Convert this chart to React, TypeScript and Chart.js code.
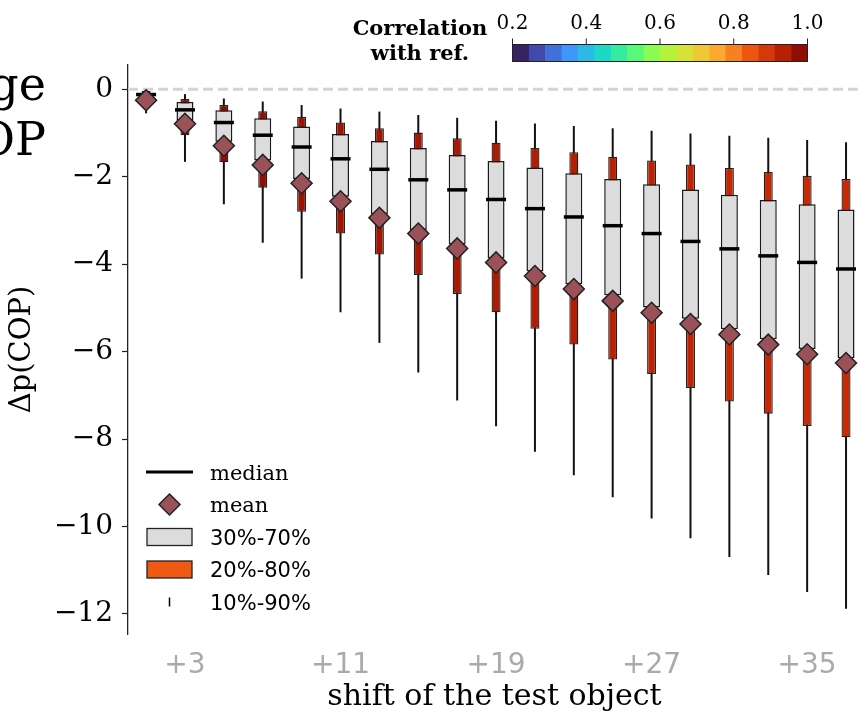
import React, { useEffect, useRef } from 'react';
import { Chart, registerables } from 'chart.js';
Chart.register(...registerables);

// ---------- data ----------
const SHIFTS = [1, 3, 5, 7, 9, 11, 13, 15, 17, 19, 21, 23, 25, 27, 29, 31, 33, 35, 37];
const P10 = [-0.02, -0.11, -0.21, -0.28, -0.36, -0.44, -0.51, -0.59, -0.65, -0.72, -0.78, -0.84, -0.89, -0.95, -1.01, -1.06, -1.11, -1.16, -1.21];
const P20 = [-0.04, -0.22, -0.36, -0.50, -0.63, -0.76, -0.89, -0.99, -1.12, -1.22, -1.34, -1.44, -1.54, -1.63, -1.72, -1.80, -1.89, -1.98, -2.05];
const P30 = [-0.08, -0.29, -0.48, -0.66, -0.85, -1.02, -1.18, -1.34, -1.50, -1.64, -1.79, -1.92, -2.05, -2.17, -2.29, -2.41, -2.53, -2.63, -2.75];
const MEDIAN = [-0.12, -0.47, -0.76, -1.05, -1.32, -1.59, -1.83, -2.07, -2.30, -2.52, -2.73, -2.92, -3.12, -3.30, -3.48, -3.65, -3.81, -3.96, -4.11];
const P70 = [-0.16, -0.72, -1.20, -1.63, -2.05, -2.46, -2.86, -3.22, -3.55, -3.87, -4.17, -4.46, -4.71, -4.99, -5.25, -5.49, -5.72, -5.94, -6.15];
const P80 = [-0.20, -1.05, -1.67, -2.25, -2.80, -3.30, -3.78, -4.25, -4.68, -5.10, -5.48, -5.84, -6.18, -6.51, -6.83, -7.14, -7.42, -7.70, -7.96];
const P90 = [-0.55, -1.66, -2.63, -3.51, -4.33, -5.10, -5.80, -6.48, -7.12, -7.71, -8.29, -8.83, -9.33, -9.82, -10.27, -10.70, -11.11, -11.50, -11.88];
const MEAN = [-0.25, -0.79, -1.29, -1.73, -2.15, -2.56, -2.94, -3.30, -3.64, -3.96, -4.27, -4.57, -4.84, -5.11, -5.37, -5.61, -5.84, -6.06, -6.26];
const CORRELATION = [0.99, 0.98, 0.976, 0.971, 0.966, 0.962, 0.958, 0.954, 0.949, 0.945, 0.94, 0.936, 0.931, 0.927, 0.922, 0.919, 0.916, 0.913, 0.911];

const X_TICKS = [3, 11, 19, 27, 35];
const Y_TICKS = [0, -2, -4, -6, -8, -10, -12];
const X_MIN = 0.07;
const X_MAX = 37.77;
const Y_MIN = -12.46;
const Y_MAX = 0.556;

const CBAR_MIN = 0.2;
const CBAR_MAX = 1.0;
const CBAR_BINS = 18;
const CBAR_TICKS = [0.2, 0.4, 0.6, 0.8, 1.0];
const CBAR_TITLE = ['Correlation', 'with ref.'];

const LEGEND_LABELS = ['median', 'mean', '30%-70%', '20%-80%', '10%-90%'];
const CROPPED_TITLE = ['ge', 'OP'];

// turbo colormap stops
const TURBO: [number, string][] = [
  [0.0, '#30123b'], [0.1, '#4454c4'], [0.2, '#3e9bfe'], [0.3, '#18d6cb'], [0.4, '#46f884'],
  [0.5, '#a4fc3c'], [0.6, '#e1dd37'], [0.7, '#fea632'], [0.8, '#ef5911'], [0.9, '#c42503'], [1.0, '#7a0403'],
];

const hex = (h: string) => [1, 3, 5].map((i) => parseInt(h.slice(i, i + 2), 16));
function turbo(t: number): string {
  const u = Math.max(0, Math.min(1, t));
  for (let i = 0; i < TURBO.length - 1; i++) {
    const [t0, c0] = TURBO[i];
    const [t1, c1] = TURBO[i + 1];
    if (u <= t1) {
      const f = (u - t0) / (t1 - t0);
      const a = hex(c0), b = hex(c1);
      const c = a.map((v, k) => Math.round(v + (b[k] - v) * f));
      return `rgb(${c[0]},${c[1]},${c[2]})`;
    }
  }
  return TURBO[TURBO.length - 1][1];
}
const corrColor = (c: number) => turbo((c - CBAR_MIN) / (CBAR_MAX - CBAR_MIN));

const SERIF = "'DejaVu Serif', serif";
const SANS = "'DejaVu Sans', sans-serif";
const MEAN_FILL = '#9a5258';
const GRAY_FILL = '#dcdcdc';
const LEGEND_ORANGE = '#ef5a13';

export default function App() {
  const ref = useRef<HTMLCanvasElement>(null);

  useEffect(() => {
    const canvas = ref.current!;

    const decor = {
      id: 'decor',
      afterDraw(chart: any) {
        const ctx: CanvasRenderingContext2D = chart.ctx;
        ctx.save();

        // cropped neighbouring title
        ctx.fillStyle = '#000';
        ctx.font = `46px ${SERIF}`;
        ctx.textAlign = 'right';
        ctx.textBaseline = 'alphabetic';
        ctx.fillText(CROPPED_TITLE[0], 46, 100);
        ctx.fillText(CROPPED_TITLE[1], 46, 155);

        // colorbar
        const cbL = 512.5, cbR = 807.5, cbT = 44.5, cbB = 61.5;
        const px = (v: number) => cbL + ((v - CBAR_MIN) / (CBAR_MAX - CBAR_MIN)) * (cbR - cbL);
        const step = (CBAR_MAX - CBAR_MIN) / CBAR_BINS;
        for (let i = 0; i < CBAR_BINS; i++) {
          const v0 = CBAR_MIN + i * step;
          ctx.fillStyle = turbo((i + 0.5) / CBAR_BINS);
          ctx.fillRect(px(v0), cbT, px(v0 + step) - px(v0) + 0.5, cbB - cbT);
        }
        ctx.strokeStyle = '#222';
        ctx.lineWidth = 1;
        ctx.strokeRect(cbL, cbT, cbR - cbL, cbB - cbT);
        ctx.fillStyle = '#000';
        ctx.textAlign = 'center';
        ctx.font = `20px ${SERIF}`;
        for (const v of CBAR_TICKS) {
          const x = px(v);
          ctx.beginPath();
          ctx.moveTo(x, cbT);
          ctx.lineTo(x, cbT - 6);
          ctx.stroke();
          ctx.fillText(v.toFixed(1), x, 28.5);
        }
        ctx.font = `bold 21px ${SERIF}`;
        ctx.fillText(CBAR_TITLE[0], 420, 34.5);
        ctx.fillText(CBAR_TITLE[1], 420, 59.5);

        // legend
        const rows = [472, 504.5, 537, 569.5, 602];
        const hx = 169.5;
        ctx.strokeStyle = '#000';
        ctx.lineWidth = 3;
        ctx.beginPath();
        ctx.moveTo(146, rows[0]);
        ctx.lineTo(193, rows[0]);
        ctx.stroke();
        const d = 10.5;
        ctx.beginPath();
        ctx.moveTo(hx, rows[1] - d);
        ctx.lineTo(hx + d, rows[1]);
        ctx.lineTo(hx, rows[1] + d);
        ctx.lineTo(hx - d, rows[1]);
        ctx.closePath();
        ctx.fillStyle = MEAN_FILL;
        ctx.fill();
        ctx.strokeStyle = '#222';
        ctx.lineWidth = 1.5;
        ctx.stroke();
        ctx.lineWidth = 1.3;
        ctx.fillStyle = GRAY_FILL;
        ctx.fillRect(147, rows[2] - 8.5, 45, 17);
        ctx.strokeRect(147, rows[2] - 8.5, 45, 17);
        ctx.fillStyle = LEGEND_ORANGE;
        ctx.fillRect(147, rows[3] - 8.5, 45, 17);
        ctx.strokeRect(147, rows[3] - 8.5, 45, 17);
        ctx.strokeStyle = '#000';
        ctx.lineWidth = 1.5;
        ctx.beginPath();
        ctx.moveTo(hx, rows[4] - 4.5);
        ctx.lineTo(hx, rows[4] + 4.5);
        ctx.stroke();
        ctx.fillStyle = '#000';
        ctx.textAlign = 'left';
        LEGEND_LABELS.forEach((lab, i) => {
          ctx.font = `21px ${i < 2 ? SERIF : SANS}`;
          ctx.fillText(lab, 210, rows[i] + 7.5);
        });

        ctx.restore();
      },
    };

    const chart = new Chart(canvas, {
      type: 'bar',
      data: {
        datasets: [
          {
            type: 'scatter',
            label: 'mean',
            data: SHIFTS.map((x, i) => ({ x, y: MEAN[i] })),
            pointStyle: 'rectRot',
            pointRadius: 10.5,
            backgroundColor: MEAN_FILL,
            borderColor: '#222',
            borderWidth: 1.5,
            order: 0,
          } as any,
          {
            type: 'scatter',
            label: 'median',
            data: SHIFTS.map((x, i) => ({ x, y: MEDIAN[i] })),
            pointStyle: 'line',
            pointRadius: 10,
            borderColor: '#000',
            backgroundColor: '#000',
            borderWidth: 3.5,
            order: 1,
          } as any,
          {
            type: 'bar',
            label: '30%-70%',
            data: SHIFTS.map((x, i) => ({ x, y: [P30[i], P70[i]] })),
            backgroundColor: GRAY_FILL,
            borderColor: '#1a1a1a',
            borderWidth: 1.5,
            borderSkipped: false,
            grouped: false,
            maxBarThickness: 17,
            order: 2,
          } as any,
          {
            type: 'bar',
            label: '20%-80%',
            data: SHIFTS.map((x, i) => ({ x, y: [P20[i], P80[i]] })),
            backgroundColor: CORRELATION.map(corrColor),
            borderColor: '#222',
            borderWidth: 1.3,
            borderSkipped: false,
            grouped: false,
            maxBarThickness: 9,
            order: 3,
          } as any,
          {
            type: 'bar',
            label: '10%-90%',
            data: SHIFTS.map((x, i) => ({ x, y: [P10[i], P90[i]] })),
            backgroundColor: '#111',
            borderWidth: 0,
            grouped: false,
            maxBarThickness: 2,
            order: 4,
          } as any,
          {
            type: 'line',
            label: 'zero',
            data: [{ x: X_MIN, y: 0 }, { x: X_MAX, y: 0 }],
            borderColor: '#d4d4d4',
            borderWidth: 3,
            borderDash: [10, 5],
            pointRadius: 0,
            order: 5,
          } as any,
        ],
      },
      options: {
        responsive: false,
        animation: false,
        events: [],
        layout: { autoPadding: false, padding: { top: 65, left: 0, right: 0, bottom: 0 } },
        plugins: { legend: { display: false }, tooltip: { enabled: false } },
        scales: {
          x: {
            type: 'linear',
            offset: false,
            min: X_MIN,
            max: X_MAX,
            grid: { display: false, offset: false },
            border: { display: false },
            afterBuildTicks: (s: any) => {
              s.ticks = X_TICKS.map((v) => ({ value: v }));
            },
            ticks: {
              callback: (v: any) => '+' + v,
              color: '#aaaaaa',
              font: { family: SANS, size: 28 },
              padding: 7,
              maxRotation: 0,
              autoSkip: false,
            },
            title: {
              display: true,
              text: 'shift of the test object',
              color: '#000',
              font: { family: SERIF, size: 30, lineHeight: 1 },
              padding: { top: 0, bottom: 0 },
            },
            afterFit: (s: any) => {
              s.height = 78;
              s.paddingLeft = 0;
              s.paddingRight = 0;
            },
          },
          y: {
            type: 'linear',
            min: Y_MIN,
            max: Y_MAX,
            afterBuildTicks: (s: any) => {
              s.ticks = Y_TICKS.map((v) => ({ value: v }));
            },
            grid: { display: true, drawOnChartArea: false, drawTicks: true, tickLength: 6, color: '#222', tickWidth: 1.2 },
            border: { display: true, color: '#222', width: 1.3 },
            ticks: {
              callback: (v: any) => (v < 0 ? '\u2212' + Math.abs(v) : String(v)),
              color: '#000',
              font: { family: SERIF, size: 28 },
              padding: 9,
            },
            title: {
              display: true,
              text: 'Δp(COP)',
              color: '#000',
              font: { family: SERIF, size: 29, lineHeight: 1 },
              padding: { top: 8, bottom: 0 },
            },
            afterFit: (s: any) => {
              s.width = 128;
            },
          },
        },
      } as any,
      plugins: [decor],
    });

    return () => chart.destroy();
  }, []);

  return (
    <div style={{ position: 'absolute', left: 0, top: 0, width: 861, height: 712, background: '#fff' }}>
      <canvas ref={ref} width={861} height={712} style={{ display: 'block' }} />
    </div>
  );
}
